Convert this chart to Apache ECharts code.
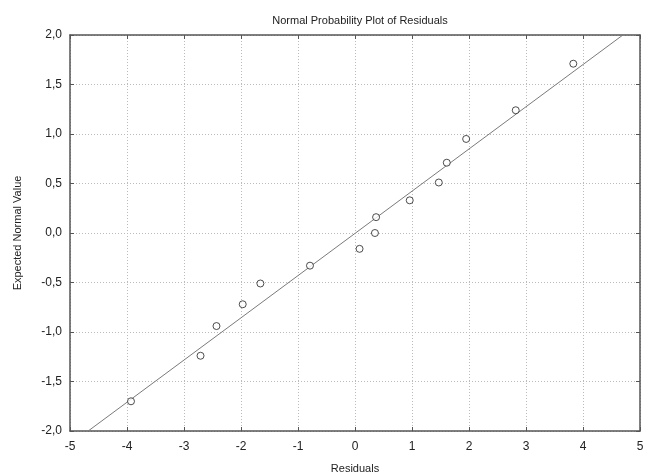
<!DOCTYPE html>
<html>
<head>
<meta charset="utf-8">
<script src="https://cdn.jsdelivr.net/npm/echarts@6/dist/echarts.min.js"></script>
<style>
  html, body { margin: 0; padding: 0; background: #fff; }
  #chart { width: 650px; height: 476px; }
</style>
</head>
<body>
<div id="chart"></div>
<script>
// Residuals and their expected normal scores
const residuals = [-3.93, -2.71, -2.43, -1.97, -1.66, -0.79, 0.08, 0.35, 0.37, 0.96, 1.47, 1.61, 1.95, 2.82, 3.83];
const expectedNormal = [-1.70, -1.24, -0.94, -0.72, -0.51, -0.33, -0.16, 0.00, 0.16, 0.33, 0.51, 0.71, 0.95, 1.24, 1.71];

// Reference line: expected = slope * residual + intercept
const fitSlope = 0.4264;
const fitIntercept = -0.004;

const xTicks = [-5, -4, -3, -2, -1, 0, 1, 2, 3, 4, 5];
const yTicks = [-2.0, -1.5, -1.0, -0.5, 0.0, 0.5, 1.0, 1.5, 2.0];

const xMin = xTicks[0], xMax = xTicks[xTicks.length - 1];
const yMin = yTicks[0], yMax = yTicks[yTicks.length - 1];

// Line endpoints where it meets the bottom and top of the plot
const lineData = [
  [(yMin - fitIntercept) / fitSlope, yMin],
  [(yMax - fitIntercept) / fitSlope, yMax]
];

const points = residuals.map((r, i) => [r, expectedNormal[i]]);

const font = 'Liberation Sans, Arial, sans-serif';
const textColor = '#222';
const frameColor = '#555';

const gridLine = { show: true, lineStyle: { color: '#bbb', type: [1, 2], width: 1 } };

const chart = echarts.init(document.getElementById('chart'), null, { renderer: 'canvas' });
chart.setOption({
  backgroundColor: '#fff',
  animation: false,
  title: {
    text: 'Normal Probability Plot of Residuals',
    left: 355, top: 10, textAlign: 'center',
    textStyle: { fontFamily: font, fontSize: 11, fontWeight: 'normal', color: textColor }
  },
  grid: { left: 70, right: 10, top: 35, bottom: 45, containLabel: false, outerBoundsMode: 'none' },
  xAxis: [
    {
      type: 'value', min: xMin, max: xMax, interval: 1,
      name: 'Residuals', nameLocation: 'middle', nameGap: 32,
      nameTextStyle: { fontFamily: font, fontSize: 11, color: textColor },
      axisLine: { show: true, onZero: false, lineStyle: { color: frameColor, width: 1.5 } },
      axisTick: { show: true, inside: true, length: 4, lineStyle: { color: frameColor } },
      axisLabel: { fontFamily: font, fontSize: 12, color: textColor, margin: 10 },
      splitLine: gridLine
    },
    {
      type: 'value', position: 'top', min: xMin, max: xMax, interval: 1,
      axisLine: { show: true, onZero: false, lineStyle: { color: frameColor, width: 1.5 } },
      axisTick: { show: true, inside: true, length: 4, lineStyle: { color: frameColor } },
      axisLabel: { show: false },
      splitLine: { show: false }
    }
  ],
  yAxis: [
    {
      type: 'value', min: yMin, max: yMax, interval: 0.5,
      name: 'Expected Normal Value', nameLocation: 'middle', nameGap: 47, nameRotate: 90,
      nameTextStyle: { fontFamily: font, fontSize: 11, color: textColor },
      axisLine: { show: true, onZero: false, lineStyle: { color: frameColor, width: 1.5 } },
      axisTick: { show: true, inside: true, length: 4, lineStyle: { color: frameColor } },
      axisLabel: {
        fontFamily: font, fontSize: 12, color: textColor, margin: 8,
        formatter: v => v.toFixed(1).replace('.', ',')
      },
      splitLine: gridLine
    },
    {
      type: 'value', position: 'right', min: yMin, max: yMax, interval: 0.5,
      axisLine: { show: true, onZero: false, lineStyle: { color: frameColor, width: 1.5 } },
      axisTick: { show: true, inside: true, length: 4, lineStyle: { color: frameColor } },
      axisLabel: { show: false },
      splitLine: { show: false }
    }
  ],
  series: [
    {
      type: 'line',
      data: lineData,
      showSymbol: false,
      clip: true,
      lineStyle: { color: '#7a7a7a', width: 1 },
      z: 2
    },
    {
      type: 'scatter',
      data: points,
      symbol: 'circle',
      symbolSize: 7,
      itemStyle: { color: '#fff', borderColor: '#222', borderWidth: 1 },
      z: 3
    }
  ]
});
</script>
</body>
</html>
